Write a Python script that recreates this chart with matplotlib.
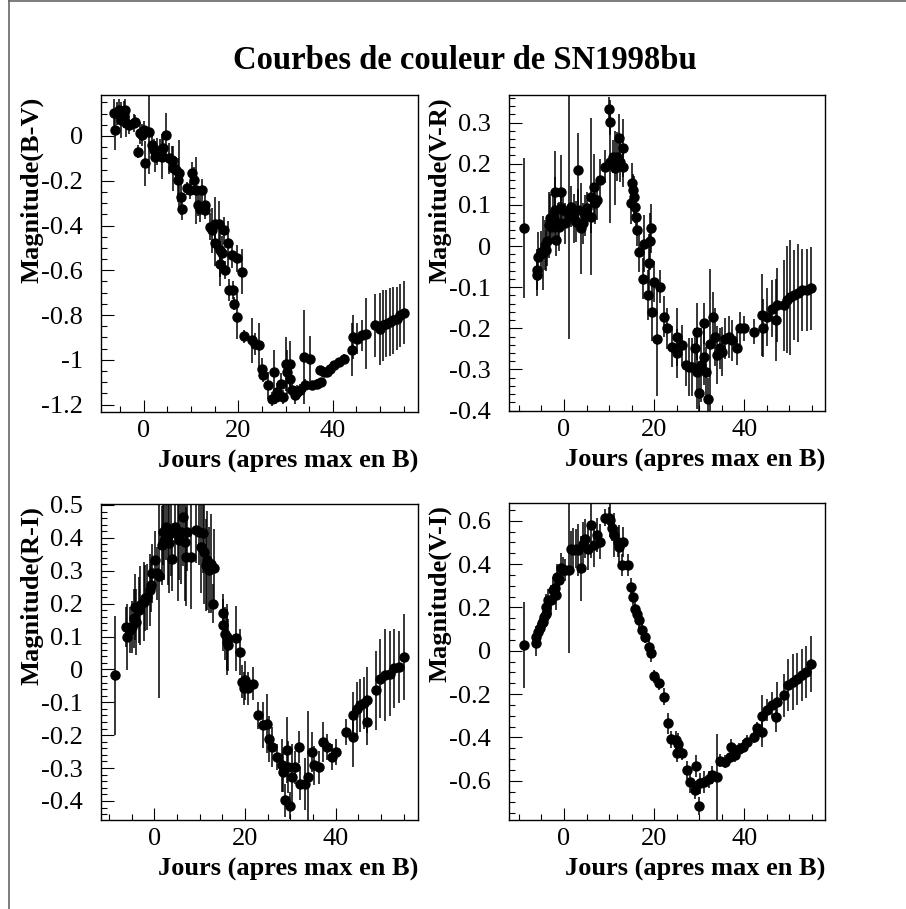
import numpy as np
import matplotlib
matplotlib.use("Agg")
import matplotlib.pyplot as plt
from matplotlib.ticker import MultipleLocator, FuncFormatter
from matplotlib.lines import Line2D

plt.rcParams['font.family'] = ['Liberation Serif', 'DejaVu Serif']

# ---- B-V ----
jours_bv = [-6.2, -6.0, -5.6, -5.1, -4.8, -4.2, -4.0, -3.7, -3.0, -2.1, -1.8, -1.1, -0.85, -0.35, 0.0,
            0.35, 1.06, 1.76, 2.1, 2.5, 2.8, 3.5, 3.9, 4.2, 4.8, 5.3, 6.0, 6.2, 6.9, 7.2, 7.4, 7.9, 8.1,
            9.2, 9.9, 10.2, 10.7, 11.1, 11.4, 12.0, 12.3, 12.9, 13.0, 14.1, 14.5, 15.0, 15.2, 15.9, 16.1,
            16.2, 16.6, 16.9, 17.3, 17.8, 18.0, 18.7, 19.0, 19.2, 19.7, 19.7, 20.8, 21.3, 22.9, 23.6, 24.3,
            25.0, 25.2, 26.2, 27.2, 27.6, 27.9, 28.3, 29.1, 29.5, 30.0, 30.3, 30.9, 31.0, 31.4, 31.9, 32.4,
            33.1, 33.9, 34.2, 35.1, 35.6, 36.7, 37.2, 37.4, 38.1, 38.8, 39.5, 40.2, 41.3, 42.3, 44.1, 44.3,
            45.1, 46.2, 47.1, 49.0, 49.9, 50.6, 51.3, 52.0, 52.7, 53.5, 54.2, 55.0]
mag_bv = [0.104, 0.027, 0.101, 0.116, 0.072, 0.094, 0.116, 0.057, 0.049, 0.057, 0.064, -0.070, 0.012, 0.004, 0.027,
          -0.122, 0.019, -0.040, -0.063, -0.092, -0.070, -0.063, -0.092, -0.055, 0.004, -0.100, -0.107, -0.145, -0.152, -0.197, -0.167, -0.271, -0.324,
          -0.234, -0.242, -0.167, -0.197, -0.242, -0.309, -0.324, -0.242, -0.331, -0.309, -0.406, -0.421, -0.480, -0.391, -0.391, -0.510,
          -0.570, -0.525, -0.421, -0.600, -0.480, -0.689, -0.532, -0.689, -0.749, -0.547, -0.808, -0.607, -0.895, -0.913, -0.928, -0.935,
          -1.040, -1.069, -1.114, -1.174, -1.054, -1.166, -1.144, -1.107, -1.166, -1.017, -1.054, -1.017, -1.084, -1.136, -1.159, -1.144,
          -1.136, -0.987, -1.114, -0.995, -1.114, -1.107, -1.047, -1.099, -1.054, -1.054, -1.040, -1.025, -1.010, -0.995, -0.954, -0.898,
          -0.905, -0.890, -0.883, -0.846, -0.861, -0.846, -0.838, -0.831, -0.823, -0.816, -0.801, -0.790]
err_bv = [0.06, 0.09, 0.05, 0.05, 0.08, 0.06, 0.05, 0.06, 0.04, 0.04, 0.03, 0.03, 0.05, 0.05, 0.04,
          0.10, 0.19, 0.05, 0.05, 0.07, 0.06, 0.05, 0.10, 0.05, 0.10, 0.07, 0.06, 0.10, 0.06, 0.10, 0.15, 0.08, 0.05,
          0.03, 0.04, 0.05, 0.06, 0.15, 0.05, 0.06, 0.05, 0.04, 0.05, 0.06, 0.10, 0.10, 0.12, 0.10, 0.12,
          0.10, 0.08, 0.06, 0.04, 0.10, 0.05, 0.06, 0.04, 0.03, 0.06, 0.10, 0.10, 0.03, 0.10, 0.05, 0.10,
          0.05, 0.03, 0.06, 0.03, 0.10, 0.03, 0.04, 0.05, 0.03, 0.12, 0.10, 0.10, 0.05, 0.03, 0.04, 0.03,
          0.03, 0.21, 0.03, 0.10, 0.02, 0.02, 0.02, 0.02, 0.02, 0.02, 0.02, 0.02, 0.02, 0.02, 0.12, 0.10,
          0.07, 0.07, 0.16, 0.14, 0.16, 0.16, 0.15, 0.15, 0.15, 0.14, 0.14, 0.14]

# ---- V-R ----
jours_vr = [-8.8, -6.0, -5.9, -5.7, -5.0, -4.6, -4.3, -3.9, -3.7, -3.4, -3.2, -2.8, -2.4, -2.1, -1.9, -1.7,
            -1.3, -1.0, -0.7, -0.7, -0.2, 0.3, 1.0, 1.6, 2.2, 2.7, 3.1, 3.2, 3.8, 4.2, 4.6, 5.1, 5.9, 6.0,
            6.6, 6.9, 7.4, 7.9, 9.1, 9.9, 10.1, 10.3, 10.8, 11.3, 11.8, 12.1, 12.4, 13.0, 13.2, 14.9, 15.0,
            15.2, 15.6, 15.7, 16.0, 16.2, 16.7, 17.6, 17.8, 18.7, 18.9, 19.1, 19.3, 19.6, 20.0, 20.7, 21.3,
            22.1, 22.9, 24.0, 25.1, 25.0, 26.2, 27.0, 27.7, 28.5, 29.0, 29.4, 29.6, 29.9, 30.3, 31.0, 31.0,
            31.4, 31.9, 32.4, 33.1, 33.4, 34.0, 34.7, 35.1, 35.8, 36.5, 37.3, 38.4, 39.0, 40.0, 42.1, 43.9,
            44.1, 45.1, 46.1, 47.1, 47.2, 48.7, 49.4, 50.1, 51.0, 51.8, 52.7, 54.0, 54.9]
mag_vr = [0.043, -0.058, -0.071, -0.026, -0.014, -0.018, 0.002, -0.010, 0.011, 0.051, 0.067, 0.047, 0.071, 0.132, 0.088, 0.015,
          0.055, 0.047, 0.132, 0.092, 0.088, 0.055, 0.075, 0.096, 0.067, 0.059, 0.185, 0.088, 0.043, 0.055, 0.075, 0.092, 0.120, 0.071,
          0.144, 0.104, 0.112, 0.161, 0.193, 0.333, 0.301, 0.205, 0.217, 0.189, 0.217, 0.262, 0.205, 0.238, 0.193, 0.104, 0.152,
          0.136, 0.120, 0.096, 0.071, 0.039, -0.014, -0.079, 0.006, -0.119, -0.042, 0.011, 0.043, -0.160, -0.087, -0.225, -0.099,
          -0.172, -0.200, -0.245, -0.221, -0.261, -0.241, -0.290, -0.294, -0.294, -0.249, -0.208, -0.306, -0.358, -0.290, -0.188, -0.269,
          -0.306, -0.371, -0.237, -0.172, -0.221, -0.265, -0.249, -0.257, -0.225, -0.221, -0.229, -0.249, -0.200, -0.200, -0.208, -0.168,
          -0.200, -0.172, -0.152, -0.180, -0.144, -0.144, -0.131, -0.125, -0.119, -0.114, -0.107, -0.107, -0.103]
err_vr = [0.17, 0.05, 0.05, 0.06, 0.05, 0.09, 0.06, 0.05, 0.06, 0.08, 0.06, 0.04, 0.06, 0.10, 0.08, 0.04,
          0.05, 0.06, 0.09, 0.04, 0.05, 0.05, 0.30, 0.05, 0.06, 0.05, 0.09, 0.05, 0.11, 0.05, 0.05, 0.04, 0.19, 0.04,
          0.08, 0.05, 0.05, 0.05, 0.04, 0.03, 0.03, 0.15, 0.04, 0.09, 0.06, 0.06, 0.05, 0.07, 0.05, 0.05, 0.05,
          0.04, 0.05, 0.04, 0.04, 0.04, 0.05, 0.05, 0.07, 0.06, 0.07, 0.07, 0.06, 0.07, 0.05, 0.14, 0.04,
          0.05, 0.05, 0.05, 0.07, 0.06, 0.05, 0.05, 0.07, 0.07, 0.05, 0.07, 0.09, 0.05, 0.09, 0.05, 0.07,
          0.06, 0.05, 0.18, 0.06, 0.07, 0.07, 0.05, 0.06, 0.05, 0.05, 0.05, 0.04, 0.04, 0.03, 0.03, 0.10,
          0.07, 0.07, 0.07, 0.10, 0.09, 0.11, 0.13, 0.14, 0.11, 0.12, 0.10, 0.10, 0.10]

# ---- R-I ----
jours_ri = [-8.7, -6.2, -6.1, -5.5, -5.0, -4.6, -4.2, -4.0, -3.5, -3.2, -2.4, -2.1, -1.7, -0.95, -0.8, -0.6,
            0.15, 0.5, 1.0, 1.6, 1.8, 2.1, 2.6, 2.9, 3.3, 3.6, 3.9, 4.6, 5.1, 5.5, 5.8, 6.3, 6.8, 7.0, 7.3,
            8.0, 9.2, 9.9, 10.2, 10.7, 11.0, 11.4, 11.7, 12.0, 12.4, 13.2, 13.0, 15.1, 15.2, 15.6, 16.0, 16.1,
            16.3, 18.0, 19.0, 19.3, 19.7, 20.0, 20.7, 21.8, 22.9, 23.9, 24.9, 25.2, 25.9, 27.1, 28.1, 28.3,
            28.8, 29.2, 29.6, 30.0, 30.3, 31.0, 32.0, 32.2, 33.3, 34.0, 34.7, 35.2, 36.4, 37.3, 38.0, 39.1,
            40.2, 42.3, 43.9, 43.9, 44.7, 45.5, 46.3, 47.0, 47.0, 48.9, 49.8, 50.9, 52.0, 52.9, 54.1, 55.0]
mag_ri = [-0.018, 0.129, 0.099, 0.119, 0.129, 0.155, 0.190, 0.145, 0.180, 0.195, 0.206, 0.216, 0.221, 0.241, 0.256, 0.292,
          0.332, 0.292, 0.284, 0.378, 0.419, 0.393, 0.434, 0.408, 0.383, 0.414, 0.337, 0.434, 0.408, 0.393, 0.419, 0.464, 0.388, 0.343, 0.419,
          0.343, 0.424, 0.419, 0.373, 0.414, 0.358, 0.317, 0.332, 0.302, 0.322, 0.307, 0.200, 0.170, 0.135, 0.109, 0.084, 0.099,
          0.074, 0.094, 0.053, -0.038, -0.058, -0.033, -0.058, -0.043, -0.140, -0.170, -0.165, -0.211, -0.236, -0.267, -0.292, -0.312,
          -0.398, -0.246, -0.297, -0.414, -0.327, -0.297, -0.236, -0.348, -0.348, -0.327, -0.251, -0.292, -0.297, -0.221, -0.236, -0.267,
          -0.251, -0.190, -0.206, -0.140, -0.119, -0.109, -0.102, -0.160, -0.094, -0.063, -0.028, -0.018, -0.013, 0.003, 0.008, 0.038]
err_ri = [0.18, 0.06, 0.10, 0.07, 0.08, 0.09, 0.10, 0.10, 0.10, 0.12, 0.12, 0.10, 0.10, 0.11, 0.08, 0.09,
          0.09, 0.08, 0.37, 0.12, 0.10, 0.12, 0.10, 0.15, 0.15, 0.13, 0.10, 0.10, 0.20, 0.12, 0.16, 0.15, 0.18, 0.15, 0.12,
          0.16, 0.10, 0.10, 0.14, 0.12, 0.16, 0.14, 0.15, 0.13, 0.15, 0.12, 0.06, 0.06, 0.08, 0.08, 0.10, 0.10,
          0.08, 0.10, 0.07, 0.05, 0.05, 0.06, 0.05, 0.05, 0.04, 0.07, 0.09, 0.07, 0.06, 0.04, 0.08, 0.06,
          0.05, 0.10, 0.08, 0.04, 0.10, 0.05, 0.05, 0.05, 0.08, 0.20, 0.06, 0.06, 0.05, 0.06, 0.04, 0.04,
          0.04, 0.04, 0.09, 0.07, 0.08, 0.08, 0.08, 0.07, 0.10, 0.12, 0.12, 0.14, 0.13, 0.12, 0.11, 0.13]

# ---- V-I ----
jours_vi = [-8.8, -6.1, -6.1, -5.7, -5.4, -4.9, -4.6, -4.4, -4.1, -3.9, -3.5, -2.9, -2.4, -2.1, -1.7, -1.5,
            -1.0, -0.7, -0.2, 0.3, 1.0, 1.5, 2.0, 2.7, 3.2, 3.8, 4.2, 4.7, 5.3, 5.9, 6.6, 7.4, 7.9, 9.0,
            9.9, 10.3, 10.6, 11.0, 11.9, 12.3, 13.2, 12.8, 14.3, 14.9, 15.2, 15.7, 16.2, 16.7, 17.4, 17.9,
            18.9, 19.3, 20.0, 21.1, 22.1, 23.0, 23.8, 24.8, 25.3, 25.0, 26.2, 27.2, 27.9, 29.0, 29.2, 29.9,
            30.1, 31.0, 32.1, 32.9, 34.0, 34.6, 35.8, 36.8, 37.1, 38.0, 38.8, 39.7, 40.7, 42.1, 42.8, 43.9,
            43.9, 45.1, 46.1, 47.1, 47.2, 48.8, 49.8, 50.7, 51.6, 52.7, 53.7, 54.9]
mag_vi = [0.026, 0.065, 0.037, 0.088, 0.103, 0.126, 0.134, 0.157, 0.169, 0.203, 0.234, 0.234, 0.280, 0.288, 0.257, 0.342,
          0.326, 0.380, 0.372, 0.372, 0.372, 0.472, 0.465, 0.472, 0.465, 0.380, 0.495, 0.518, 0.472, 0.580, 0.488, 0.534, 0.503, 0.615,
          0.615, 0.603, 0.565, 0.534, 0.503, 0.480, 0.503, 0.395, 0.395, 0.295, 0.249, 0.195, 0.169, 0.142, 0.095, 0.065,
          0.018, -0.012, -0.117, -0.151, -0.212, -0.335, -0.409, -0.412, -0.428, -0.474, -0.474, -0.551, -0.605, -0.643, -0.532, -0.717,
          -0.612, -0.605, -0.594, -0.574, -0.582, -0.508, -0.512, -0.489, -0.446, -0.482, -0.455, -0.443, -0.420, -0.397, -0.358, -0.374,
          -0.302, -0.274, -0.251, -0.305, -0.235, -0.205, -0.158, -0.143, -0.128, -0.112, -0.097, -0.062]
err_vi = [0.20, 0.05, 0.06, 0.04, 0.05, 0.05, 0.05, 0.06, 0.05, 0.06, 0.05, 0.07, 0.06, 0.05, 0.07, 0.06,
          0.06, 0.07, 0.06, 0.05, 0.38, 0.08, 0.10, 0.09, 0.12, 0.15, 0.10, 0.09, 0.10, 0.15, 0.10, 0.08, 0.08, 0.04,
          0.05, 0.08, 0.06, 0.10, 0.07, 0.10, 0.07, 0.05, 0.05, 0.04, 0.04, 0.05, 0.04, 0.04, 0.03, 0.03,
          0.03, 0.04, 0.03, 0.03, 0.04, 0.05, 0.04, 0.04, 0.05, 0.04, 0.03, 0.04, 0.05, 0.04, 0.05, 0.04,
          0.05, 0.05, 0.04, 0.04, 0.20, 0.03, 0.03, 0.03, 0.04, 0.03, 0.03, 0.03, 0.03, 0.03, 0.03, 0.07,
          0.10, 0.05, 0.06, 0.07, 0.09, 0.10, 0.12, 0.13, 0.12, 0.12, 0.12, 0.13]

W, H = 906, 909
fig = plt.figure(figsize=(W / 100, H / 100), dpi=100)

# (left, top, right, bottom) in pixels, data, limits, y ticks
panels = [
    ((101, 95, 418, 412), jours_bv, mag_bv, err_bv, "Magnitude(B-V)", (-9.0, 58.0), (-1.233, 0.183), 0.2, 0.05),
    ((509, 95, 825, 411), jours_vr, mag_vr, err_vr, "Magnitude(V-R)", (-12.2, 57.9), (-0.401, 0.367), 0.1, 0.02),
    ((101, 504, 418, 820), jours_ri, mag_ri, err_ri, "Magnitude(R-I)", (-11.8, 58.2), (-0.458, 0.503), 0.1, 0.02),
    ((509, 503, 825, 820), jours_vi, mag_vi, err_vi, "Magnitude(V-I)", (-12.2, 57.9), (-0.781, 0.682), 0.2, 0.05),
]

def fmt(v, pos):
    s = f"{round(v, 3):g}"
    return "0" if s == "-0" else s

for (l, t, r, b), x, y, e, ylab, xlim, ylim, major, minor in panels:
    ax = fig.add_axes([l / W, 1 - b / H, (r - l) / W, (b - t) / H])
    ax.errorbar(x, y, yerr=e, fmt='o', color='black', ms=6.5, elinewidth=1.1, capsize=0)
    ax.set_xlim(*xlim)
    ax.set_ylim(*ylim)
    ax.xaxis.set_major_locator(MultipleLocator(20))
    ax.xaxis.set_minor_locator(MultipleLocator(5))
    ax.yaxis.set_major_locator(MultipleLocator(major))
    ax.yaxis.set_minor_locator(MultipleLocator(minor))
    ax.xaxis.set_major_formatter(FuncFormatter(fmt))
    ax.yaxis.set_major_formatter(FuncFormatter(fmt))
    ax.tick_params(which='both', direction='in', top=False, right=False, labelsize=19, width=0.8)
    ax.tick_params(which='major', length=9)
    ax.tick_params(which='minor', length=4.5)
    ax.tick_params(axis='y', pad=13)
    ax.tick_params(axis='x', pad=6)
    for s in ax.spines.values():
        s.set_linewidth(1.0)
    # axis titles
    fig.text(r / W, 1 - (b + 56) / H, "Jours (apres max en B)", ha='right', va='baseline',
             fontsize=19, fontweight='bold')
    fig.text((l - 63) / W, 1 - (t + 2) / H, ylab, rotation=90, rotation_mode='anchor',
             ha='right', va='baseline', fontsize=19, fontweight='bold')

fig.text(465 / W, 1 - 69 / H, "Courbes de couleur de SN1998bu", ha='center', va='baseline',
         fontsize=23.5, fontweight='bold')

# canvas border (left and top)
fig.add_artist(Line2D([9 / W, 9 / W], [0, 1], color='#666666', lw=1.2))
fig.add_artist(Line2D([9 / W, 1], [1 - 1 / H, 1 - 1 / H], color='#666666', lw=1.2))

fig.savefig("out.png", dpi=100)
